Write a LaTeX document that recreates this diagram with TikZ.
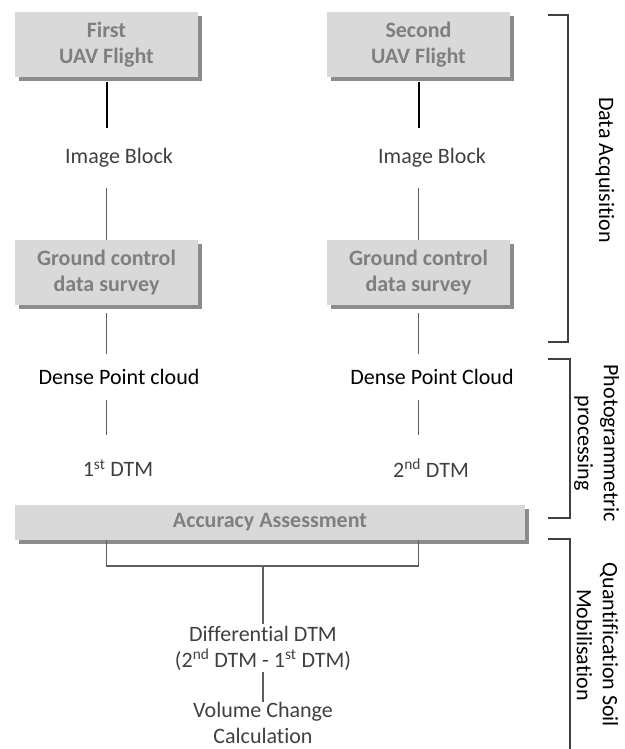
\documentclass[tikz,border=0pt]{standalone}
\usepackage{fontspec}
\setmainfont{Carlito}[Ligatures=NoCommon]
\definecolor{boxfill}{RGB}{217,217,217}
\definecolor{boxtext}{RGB}{127,127,127}
\definecolor{boxshade}{RGB}{140,140,140}
\definecolor{darktext}{RGB}{64,64,64}
\definecolor{linkgray}{RGB}{95,95,95}

\begin{document}
\fontsize{22}{26}\selectfont
\begin{tikzpicture}[x=1pt,y=1pt,yscale=-1,xscale=1,
  stepbox/.style={fill=boxfill, text=boxtext, font=\bfseries, align=center,
    minimum width=183pt, minimum height=65pt, inner sep=0pt},
  shade/.style={fill=boxshade},
  steplabel/.style={text=darktext, align=center, inner sep=0pt},
  link/.style={draw=linkgray, line width=1.4pt},
  toplink/.style={draw=black, line width=2pt},
  bracket/.style={draw=darktext, line width=1.2pt}]
\useasboundingbox (0,0) rectangle (624,749);

% Box shadows
\fill [shade] (19,16) rectangle (202,81);
\fill [shade] (331,16) rectangle (514,81);
\fill [shade] (19,244) rectangle (202,309);
\fill [shade] (331,244) rectangle (514,309);
\fill [shade] (19,509) rectangle (529,544);

% UAV flights
\node [stepbox] (flight1) at (106.5,44.5) {First\\UAV Flight};
\node [stepbox] (flight2) at (418.5,44.5) {Second\\UAV Flight};

% Image blocks
\node [steplabel, minimum height=60pt] (block1) at (119,158) {Image Block};
\node [steplabel, minimum height=60pt] (block2) at (432,158) {Image Block};

% Ground control
\node [stepbox] (gcp1) at (106.5,272.5) {Ground control\\data survey};
\node [stepbox] (gcp2) at (418.5,272.5) {Ground control\\data survey};

% Dense clouds and DTMs
\node [steplabel, text=black, minimum height=46pt] (cloud1) at (119,377) {Dense Point cloud};
\node [steplabel, text=black, minimum height=46pt] (cloud2) at (432,377) {Dense Point Cloud};
\node [steplabel, minimum height=66pt] (dtm1) at (118,468) {1\textsuperscript{st} DTM};
\node [steplabel, minimum height=66pt] (dtm2) at (431,468) {2\textsuperscript{nd} DTM};

% Accuracy and difference
\node [stepbox, minimum width=510pt, minimum height=35pt] (accuracy) at (270,522.5) {Accuracy Assessment};
\coordinate (merge) at (263,566);
\node [steplabel, inner ysep=2pt] (diff) at (263,648) {Differential DTM\\(2\textsuperscript{nd} DTM - 1\textsuperscript{st} DTM)};
\node [steplabel] (volume) at (263,723) {Volume Change\\Calculation};

% Connectors, left column
\draw [toplink, shorten <=5pt] (flight1.south) -- (flight1.south |- block1.north);
\draw [link] (flight1.south |- block1.south) -- (flight1.south |- gcp1.north);
\draw [link, shorten <=8pt] (gcp1.south) -- (gcp1.south |- cloud1.north);
\draw [link] (gcp1.south |- cloud1.south) -- (gcp1.south |- dtm1.north);
% Connectors, right column
\draw [toplink, shorten <=5pt] (flight2.south) -- (flight2.south |- block2.north);
\draw [link] (flight2.south |- block2.south) -- (flight2.south |- gcp2.north);
\draw [link, shorten <=8pt] (gcp2.south) -- (gcp2.south |- cloud2.north);
\draw [link] (gcp2.south |- cloud2.south) -- (gcp2.south |- dtm2.north);
% Merge
\draw [link] (accuracy.south -| flight1.south) |- (merge) -| (accuracy.south -| flight2.south);
\draw [link] (merge) -- (diff.north);
\draw [link] (diff.south) -- (volume.north);

% Stage brackets
\draw [bracket] (548,15) -- (568,15) -- (568,342) -- (548,342);
\node [rotate=-90] (acquisition) at (605,170) {Data Acquisition};
\draw [bracket] (548,359) -- (570,359) -- (570,518) -- (548,518);
\node [rotate=-90, align=center] (processing) at (596.5,443) {Photogrammetric\\processing};
\draw [bracket] (548,539) -- (570,539) -- (570,749);
\node [rotate=-90, align=center] (quantification) at (597.5,645) {Quantification Soil\\Mobilisation};

\end{tikzpicture}
\end{document}
